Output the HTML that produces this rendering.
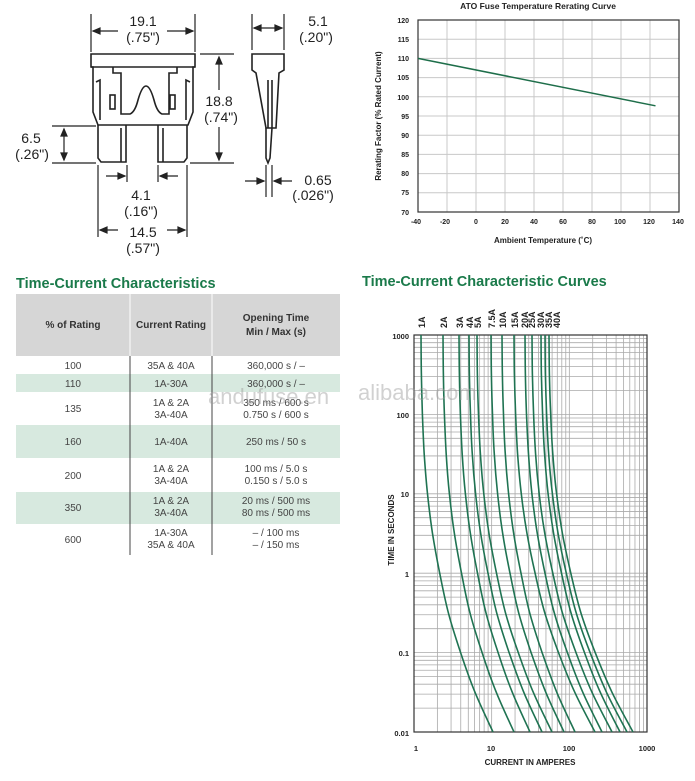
<!DOCTYPE html>
<html><head><meta charset="utf-8">
<style>
body{margin:0;background:#fff;width:695px;height:781px;overflow:hidden;font-family:"Liberation Sans",sans-serif;}
svg{position:absolute;left:0;top:0}
</style></head><body>
<svg width="695" height="781" viewBox="0 0 695 781" xmlns="http://www.w3.org/2000/svg" font-family="Liberation Sans, sans-serif">
<g fill="none" stroke="#222" stroke-width="1.6">
<path d="M91,54 H195 V67 L193,67 V112 L188,125 H98 L93,112 V67 H91 Z" fill="#fff"/>
<line x1="91" y1="67" x2="195" y2="67"/>
<path d="M113,67 V73 H121 V114 H130 Q135,112 138,100 Q142,86 146,86 Q150,86 154,100 Q157,112 162,114 H169 V73 H177 V67"/>
<rect x="110" y="95" width="5" height="14"/><rect x="170" y="95" width="5" height="14"/>
<path d="M96,82 L100,80 V120 M190,82 L186,80 V120"/>
<path d="M98,125 V158 L101,162 H126 V125 M121,128 V162"/>
<path d="M158,125 V162 H184 L187,158 V125 M163,128 V162"/>
<path d="M252,54 H284 V70 L279,73 L276,128 H266 L256,73 L252,70 Z" fill="#fff"/>
<path d="M266,128 V158 L268,163 L270,158 L272,128 M268,80 V128 M272,80 V128"/>
</g>
<g stroke="#222" stroke-width="1.2" fill="#222">
<line x1="91" y1="14" x2="91" y2="52"/><line x1="195" y1="14" x2="195" y2="52"/>
<line x1="93" y1="31" x2="118" y2="31"/><line x1="167" y1="31" x2="193" y2="31"/>
<path d="M93,31 l7,-3 v6z M193,31 l-7,-3 v6z"/>
<line x1="252" y1="14" x2="252" y2="50"/><line x1="284" y1="14" x2="284" y2="50"/>
<line x1="254" y1="28" x2="282" y2="28"/><path d="M254,28 l7,-3 v6z M282,28 l-7,-3 v6z"/>
<line x1="200" y1="54" x2="234" y2="54"/><line x1="190" y1="163" x2="234" y2="163"/>
<line x1="219" y1="58" x2="219" y2="90"/><line x1="219" y1="127" x2="219" y2="159"/>
<path d="M219,57 l-3,7 h6z M219,160 l-3,-7 h6z"/>
<line x1="52" y1="126" x2="96" y2="126"/><line x1="52" y1="163" x2="96" y2="163"/>
<line x1="64" y1="129" x2="64" y2="160"/><path d="M64,129 l-3,7 h6z M64,160 l-3,-7 h6z"/>
<line x1="98" y1="165" x2="98" y2="237"/><line x1="187" y1="165" x2="187" y2="237"/>
<line x1="127" y1="165" x2="127" y2="182"/><line x1="158" y1="165" x2="158" y2="182"/>
<line x1="106" y1="176" x2="125" y2="176"/><path d="M125,176 l-7,-3 v6z"/>
<line x1="160" y1="176" x2="178" y2="176"/><path d="M160,176 l7,-3 v6z"/>
<line x1="100" y1="230" x2="118" y2="230"/><line x1="167" y1="230" x2="185" y2="230"/>
<path d="M100,230 l7,-3 v6z M185,230 l-7,-3 v6z"/>
<line x1="266" y1="165" x2="266" y2="197"/><line x1="272" y1="165" x2="272" y2="197"/>
<line x1="245" y1="181" x2="264" y2="181"/><path d="M264,181 l-7,-3 v6z"/>
<line x1="274" y1="181" x2="292" y2="181"/><path d="M274,181 l7,-3 v6z"/>
</g>
<g font-size="14" fill="#222" text-anchor="middle">
<text x="143" y="26">19.1</text><text x="143" y="42">(.75")</text>
<text x="318" y="26">5.1</text><text x="316" y="42">(.20")</text>
<text x="219" y="106">18.8</text><text x="221" y="122">(.74")</text>
<text x="31" y="143">6.5</text><text x="32" y="159">(.26")</text>
<text x="141" y="200">4.1</text><text x="141" y="216">(.16")</text>
<text x="143" y="237">14.5</text><text x="143" y="253">(.57")</text>
<text x="318" y="185">0.65</text><text x="313" y="200">(.026")</text>
</g>

<g id="rg" stroke="#c8c8c8" stroke-width="1"></g>
<rect x="418" y="20" width="261" height="192" fill="none" stroke="#333" stroke-width="1.2"/>
<line x1="418" y1="58.4" x2="655.5" y2="105.8" stroke="#1e6e4a" stroke-width="1.5"/>
<text x="538" y="9" font-size="8.5" font-weight="bold" text-anchor="middle" fill="#222">ATO Fuse Temperature Rerating Curve</text>
<g font-size="7" font-weight="bold" fill="#222" text-anchor="end">
<text x="409" y="23">120</text><text x="409" y="42">115</text><text x="409" y="61">110</text><text x="409" y="80">105</text><text x="409" y="100">100</text><text x="409" y="119">95</text><text x="409" y="138">90</text><text x="409" y="157">85</text><text x="409" y="176">80</text><text x="409" y="195">75</text><text x="409" y="215">70</text>
</g>
<g font-size="7" font-weight="bold" fill="#222" text-anchor="middle">
<text x="416" y="224">-40</text><text x="445" y="224">-20</text><text x="476" y="224">0</text><text x="505" y="224">20</text><text x="534" y="224">40</text><text x="563" y="224">60</text><text x="592" y="224">80</text><text x="620" y="224">100</text><text x="649" y="224">120</text><text x="678" y="224">140</text>
</g>
<text x="543" y="243" font-size="8" font-weight="bold" text-anchor="middle" fill="#222">Ambient Temperature (˚C)</text>
<text transform="translate(381,116) rotate(-90)" font-size="8" font-weight="bold" text-anchor="middle" fill="#222">Rerating Factor (% Rated Current)</text>

<text x="16" y="288" font-size="14.5" font-weight="bold" fill="#1a7a4a">Time-Current Characteristics</text>
<rect x="16" y="294" width="324" height="62" fill="#d6d6d6"/>
<rect x="16" y="374" width="324" height="18" fill="#d7e9df"/>
<rect x="16" y="425" width="324" height="33" fill="#d7e9df"/>
<rect x="16" y="492" width="324" height="32" fill="#d7e9df"/>
<line x1="130" y1="294" x2="130" y2="555" stroke="#fff" stroke-width="1"/>
<line x1="212" y1="294" x2="212" y2="555" stroke="#fff" stroke-width="1"/>
<line x1="130" y1="356" x2="130" y2="555" stroke="#444" stroke-width="1"/>
<line x1="212" y1="356" x2="212" y2="555" stroke="#444" stroke-width="1"/>
<g font-size="10" font-weight="bold" fill="#333" text-anchor="middle">
<text x="73" y="328">% of Rating</text><text x="171" y="328">Current Rating</text>
<text x="276" y="321">Opening Time</text><text x="276" y="335">Min / Max (s)</text>
</g>
<g font-size="10" fill="#444" text-anchor="middle">
<text x="73" y="369">100</text><text x="171" y="369">35A &amp; 40A</text><text x="276" y="369">360,000 s / –</text>
<text x="73" y="387">110</text><text x="171" y="387">1A-30A</text><text x="276" y="387">360,000 s / –</text>
<text x="73" y="412">135</text><text x="171" y="406">1A &amp; 2A</text><text x="171" y="418">3A-40A</text><text x="276" y="406">350 ms / 600 s</text><text x="276" y="418">0.750 s / 600 s</text>
<text x="73" y="445">160</text><text x="171" y="445">1A-40A</text><text x="276" y="445">250 ms / 50 s</text>
<text x="73" y="479">200</text><text x="171" y="472">1A &amp; 2A</text><text x="171" y="484">3A-40A</text><text x="276" y="472">100 ms / 5.0 s</text><text x="276" y="484">0.150 s / 5.0 s</text>
<text x="73" y="511">350</text><text x="171" y="504">1A &amp; 2A</text><text x="171" y="516">3A-40A</text><text x="276" y="504">20 ms / 500 ms</text><text x="276" y="516">80 ms / 500 ms</text>
<text x="73" y="543">600</text><text x="171" y="536">1A-30A</text><text x="171" y="548">35A &amp; 40A</text><text x="276" y="536">– / 100 ms</text><text x="276" y="548">– / 150 ms</text>
</g>
<text x="208" y="404" font-size="22" fill="#999" fill-opacity="0.45">andufuse.en</text>

<text x="362" y="286" font-size="14.5" font-weight="bold" fill="#1a7a4a">Time-Current Characteristic Curves</text>
<g id="cg" stroke="#aaa" stroke-width="0.8"></g>
<rect x="414" y="335" width="233" height="397" fill="none" stroke="#333" stroke-width="1.2"/>
<g id="cc" fill="none" stroke="#1f7352" stroke-width="1.6"></g>
<text x="358" y="400" font-size="22" fill="#999" fill-opacity="0.45">alibaba.com</text>
<g font-size="7.5" font-weight="bold" fill="#222" text-anchor="end">
<text x="409" y="339">1000</text><text x="409" y="418">100</text><text x="409" y="497">10</text><text x="409" y="577">1</text><text x="409" y="656">0.1</text><text x="409" y="736">0.01</text>
</g>
<g font-size="7.5" font-weight="bold" fill="#222" text-anchor="middle">
<text x="416" y="751">1</text><text x="491" y="751">10</text><text x="569" y="751">100</text><text x="647" y="751">1000</text>
</g>
<text x="530" y="765" font-size="8" font-weight="bold" text-anchor="middle" fill="#222">CURRENT IN AMPERES</text>
<text transform="translate(394,530) rotate(-90)" font-size="8" font-weight="bold" text-anchor="middle" fill="#222">TIME IN SECONDS</text>
<g font-size="9" font-weight="bold" fill="#222">
<text transform="translate(425,328) rotate(-90)">1A</text>
<text transform="translate(447,328) rotate(-90)">2A</text>
<text transform="translate(463,328) rotate(-90)">3A</text>
<text transform="translate(473,328) rotate(-90)">4A</text>
<text transform="translate(481,328) rotate(-90)">5A</text>
<text transform="translate(495,328) rotate(-90)">7.5A</text>
<text transform="translate(506,328) rotate(-90)">10A</text>
<text transform="translate(518,328) rotate(-90)">15A</text>
<text transform="translate(528,328) rotate(-90)">20A</text>
<text transform="translate(535,328) rotate(-90)">25A</text>
<text transform="translate(544,328) rotate(-90)">30A</text>
<text transform="translate(552,328) rotate(-90)">35A</text>
<text transform="translate(560,328) rotate(-90)">40A</text>
</g>
</svg>
<script>
var NS="http://www.w3.org/2000/svg";
function ln(g,x1,y1,x2,y2){var l=document.createElementNS(NS,"line");l.setAttribute("x1",x1);l.setAttribute("y1",y1);l.setAttribute("x2",x2);l.setAttribute("y2",y2);g.appendChild(l);}
var rg=document.getElementById("rg");
for(var i=1;i<9;i++){var x=418+i*29;ln(rg,x,20,x,212);}
for(var j=1;j<10;j++){var y=20+j*19.2;ln(rg,418,y,679,y);}
var cg=document.getElementById("cg");
var L=414,W=233,T=335,H=397;
for(var d=0;d<3;d++)for(var k=2;k<=10;k++){var x=L+(d+Math.log10(k))*W/3;ln(cg,x,T,x,T+H);}
for(var d=0;d<5;d++)for(var k=2;k<=10;k++){var y=T+H-(d+Math.log10(k))*H/5;ln(cg,L,y,L+W,y);}
var tops=[421,443,459,469,477,491,502,514,525,532,541,545,549];
var bots=[493,514,530,542,552,564,575,595,602,612,620,627,633];
var fr=[0,0.005,0.02,0.045,0.09,0.16,0.26,0.38,0.55,0.75,1];
var cc=document.getElementById("cc");
for(var c=0;c<13;c++){
var P=[];for(var i=0;i<11;i++)P.push([tops[c]+(bots[c]-tops[c])*fr[i],T+i*H/10]);
var d="M"+P[0][0].toFixed(1)+","+P[0][1].toFixed(1);
for(var i=0;i<10;i++){var p0=P[Math.max(0,i-1)],p1=P[i],p2=P[i+1],p3=P[Math.min(10,i+2)];
d+=" C"+(p1[0]+(p2[0]-p0[0])/6).toFixed(1)+","+(p1[1]+(p2[1]-p0[1])/6).toFixed(1)+" "+(p2[0]-(p3[0]-p1[0])/6).toFixed(1)+","+(p2[1]-(p3[1]-p1[1])/6).toFixed(1)+" "+p2[0].toFixed(1)+","+p2[1].toFixed(1);}
var p=document.createElementNS(NS,"path");p.setAttribute("d",d);cc.appendChild(p);}
</script>
</body></html>
